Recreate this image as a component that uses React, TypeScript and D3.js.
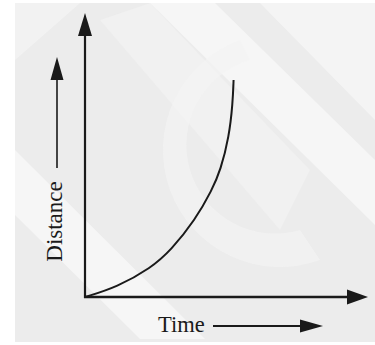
import React from "react";
import * as d3 from "d3";

const timeValues = [0, 1.13, 2.33, 3.04, 3.89, 4.49, 4.79, 5.09, 5.22, 5.25];
const distanceValues = [0, 0.35, 1.02, 1.65, 2.71, 3.77, 4.47, 5.63, 6.83, 7.64];
const axisDomain = [0, 10];
const xLabel = "Time";
const yLabel = "Distance";

const W = 375;
const H = 345;
const INK = "#1a1a1a";

function arrowHead(tipX: number, tipY: number, dir: "up" | "right", len: number, half: number) {
  if (dir === "up") {
    return `M${tipX},${tipY}L${tipX - half},${tipY + len}L${tipX + half},${tipY + len}Z`;
  }
  return `M${tipX},${tipY}L${tipX - len},${tipY - half}L${tipX - len},${tipY + half}Z`;
}

export default function App() {
  const x = d3.scaleLinear().domain(axisDomain).range([85, 368]);
  const y = d3.scaleLinear().domain(axisDomain).range([297, 13]);

  const pts: [number, number][] = timeValues.map((t, i) => [t, distanceValues[i]]);
  const line = d3
    .line<[number, number]>()
    .x((d) => x(d[0]))
    .y((d) => y(d[1]))
    .curve(d3.curveBasis);

  const x0 = x(0);
  const y0 = y(0);
  const xEnd = x(axisDomain[1]);
  const yEnd = y(axisDomain[1]);
  const headLen = 23;
  const headHalf = 7;

  return (
    <svg
      width={W}
      height={H}
      style={{ position: "absolute", left: 0, top: 0 }}
      xmlns="http://www.w3.org/2000/svg"
    >
      <rect x={0} y={0} width={W} height={H} fill="#ffffff" />
      <rect x={15} y={3} width={W - 15} height={H - 6} fill="#ececec" />
      {/* faint watermark bands */}
      <g fill="#f6f6f6">
        <path d="M150,3 L215,3 L375,160 L375,225 Z" />
        <path d="M15,150 L15,215 L140,339 L205,339 Z" />
        <path d="M260,3 L375,3 L375,120 Z" opacity={0.8} />
        <path d="M100,20 L150,3 L310,170 L280,230 Z" opacity={0.5} />
        <path d="M15,3 L80,3 L15,60 Z" opacity={0.6} />
      </g>
      <path
        d="M250,60 A70,70 0 0 0 300,230 L320,260 A105,105 0 0 1 240,40 Z"
        fill="#f4f4f4"
        opacity={0.7}
      />

      {/* axes */}
      <line x1={x0} y1={y0 + 1} x2={x0} y2={yEnd + headLen - 2} stroke={INK} strokeWidth={2.2} />
      <path d={arrowHead(x0, yEnd, "up", headLen, headHalf)} fill={INK} />
      <line x1={x0 - 1} y1={y0} x2={xEnd - headLen + 2} y2={y0} stroke={INK} strokeWidth={2.4} />
      <path d={arrowHead(xEnd, y0, "right", headLen - 2, headHalf + 0.5)} fill={INK} />

      {/* curve */}
      <path d={line(pts) ?? ""} fill="none" stroke={INK} strokeWidth={2} />

      {/* y label with arrow */}
      <line x1={57} y1={168} x2={57} y2={78} stroke={INK} strokeWidth={1.6} />
      <path d={arrowHead(57, 57, "up", 23, 6.5)} fill={INK} />
      <text
        transform="translate(62,221.5) rotate(-90)"
        textAnchor="middle"
        fontFamily="'Liberation Serif', 'DejaVu Serif', serif"
        fontSize={23}
        fill={INK}
      >
        {yLabel}
      </text>

      {/* x label with arrow */}
      <text
        x={158}
        y={332}
        fontFamily="'Liberation Serif', 'DejaVu Serif', serif"
        fontSize={22.5}
        fill={INK}
      >
        {xLabel}
      </text>
      <line x1={213} y1={326} x2={302} y2={326} stroke={INK} strokeWidth={1.8} />
      <path d={arrowHead(323, 326, "right", 23, 6.5)} fill={INK} />
    </svg>
  );
}
